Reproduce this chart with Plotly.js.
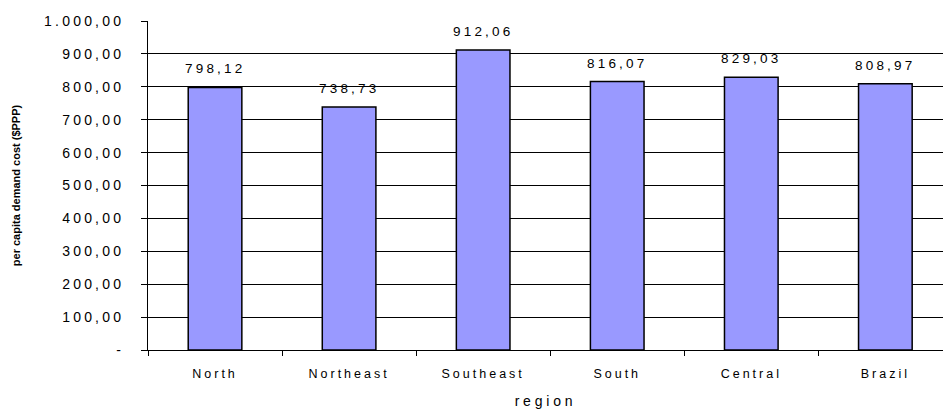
<!DOCTYPE html>
<html>
<head>
<meta charset="utf-8">
<script src="https://cdn.plot.ly/plotly-3.0.1.min.js"></script>
<style>
  html, body { margin: 0; padding: 0; background: #fff; }
  .xtick text { letter-spacing: 3px; }
  .ytick text { letter-spacing: 3.2px; }
  .annotation-text { letter-spacing: 3.2px; }
  .g-xtitle text { letter-spacing: 3.8px; }
</style>
</head>
<body>
<div id="chart" style="width:943px;height:410px;"></div>
<script>
const regions = ["North", "Northeast", "Southeast", "South", "Central", "Brazil"];
const costs = [798.12, 738.73, 912.06, 816.07, 829.03, 808.97];
const yTickVals = [0, 100, 200, 300, 400, 500, 600, 700, 800, 900, 1000];
const yTickText = ["-", "100,00", "200,00", "300,00", "400,00", "500,00", "600,00", "700,00", "800,00", "900,00", "1.000,00"];
const valueLabels = ["798,12", "738,73", "912,06", "816,07", "829,03", "808,97"];

const trace = {
  type: "bar",
  x: regions,
  y: costs,
  width: 0.4,
  marker: { color: "#9999FF", line: { color: "#000000", width: 1.5 } },
  hoverinfo: "none"
};

const annotations = regions.map((r, i) => ({
  x: r, y: costs[i], xref: "x", yref: "y",
  text: valueLabels[i], showarrow: false,
  yanchor: "bottom", yshift: 9,
  font: { family: "Arial, Liberation Sans, sans-serif", size: 13.5, color: "#000" }
}));

const layout = {
  width: 943, height: 410,
  margin: { l: 148, r: 0, t: 21, b: 60 },
  paper_bgcolor: "#fff", plot_bgcolor: "#fff",
  showlegend: false,
  font: { family: "Arial, Liberation Sans, sans-serif", color: "#000" },
  xaxis: {
    type: "category",
    range: [-0.5, 5.43],
    showline: true, linecolor: "#000", linewidth: 1,
    ticks: "outside", tickson: "boundaries", ticklen: 5, tickcolor: "#000", tickwidth: 1,
    showgrid: false,
    tickfont: { size: 12.5, color: "#000" },
    ticklabelstandoff: 12,
    title: { text: "region", font: { size: 14, color: "#000" }, standoff: 16 }
  },
  yaxis: {
    range: [0, 1000],
    tickvals: yTickVals, ticktext: yTickText,
    showline: true, linecolor: "#000", linewidth: 1,
    ticks: "outside", ticklen: 6, tickcolor: "#000", tickwidth: 1,
    showgrid: true, gridcolor: "#000", gridwidth: 1,
    zeroline: false,
    tickfont: { size: 14, color: "#000" },
    ticklabelstandoff: 14,
    title: { text: "<b>per capita demand cost ($PPP)</b>", font: { size: 11, color: "#000" }, standoff: 21 }
  },
  annotations: annotations
};

Plotly.newPlot("chart", [trace], layout, { staticPlot: true, displayModeBar: false });
</script>
</body>
</html>
